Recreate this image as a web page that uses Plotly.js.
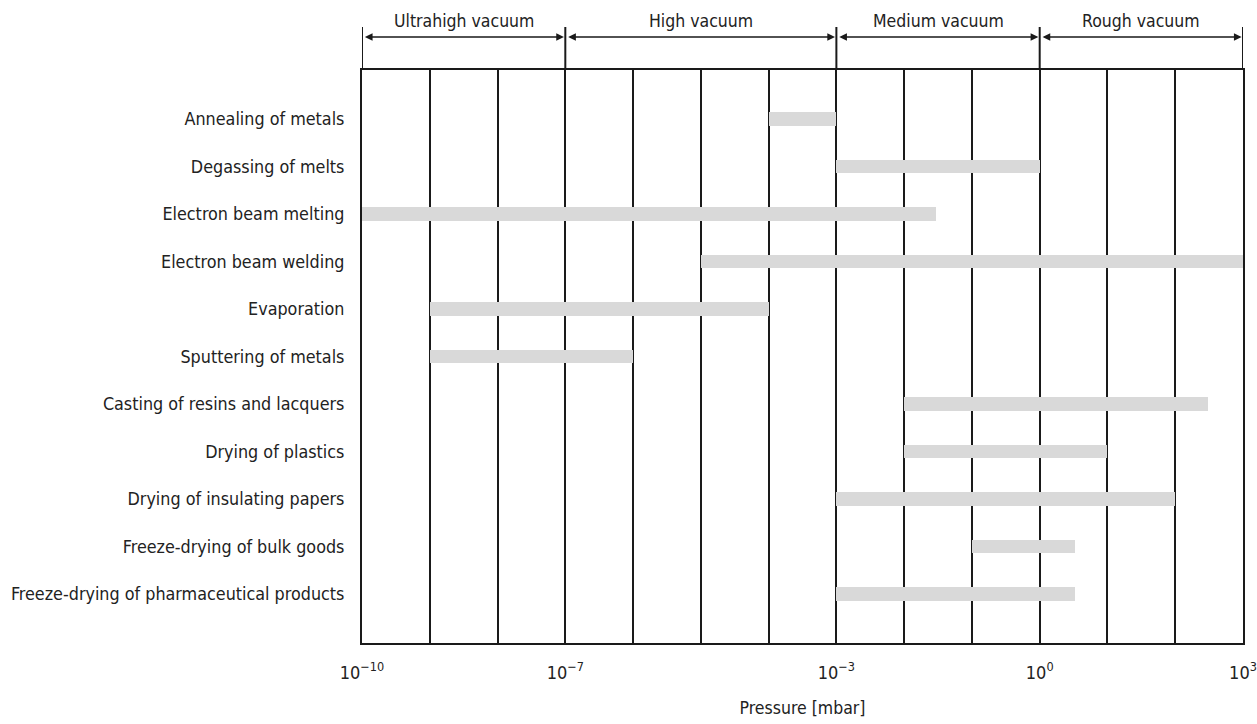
<!DOCTYPE html>
<html>
<head>
<meta charset="utf-8">
<script src="https://cdn.plot.ly/plotly-3.0.1.min.js"></script>
<style>html,body{margin:0;padding:0;background:#fff;}#chart{width:1257px;height:724px;}</style>
</head>
<body>
<div id="chart"></div>
<script>
// Applications (top to bottom)
const applications = [
  "Annealing of metals",
  "Degassing of melts",
  "Electron beam melting",
  "Electron beam welding",
  "Evaporation",
  "Sputtering of metals",
  "Casting of resins and lacquers",
  "Drying of plastics",
  "Drying of insulating papers",
  "Freeze-drying of bulk goods",
  "Freeze-drying of pharmaceutical products"
];
// Pressure range per application, mbar
const rangeStart = [1e-4, 1e-3, 1e-10, 1e-5, 1e-9, 1e-9, 1e-2, 1e-2, 1e-3, 1e-1, 1e-3];
const rangeEnd   = [1e-3, 1e0,  3e-2,  1e3,  1e-4, 1e-6, 3e2,  1e1,  1e2,  3.3,  3.3];

// Vacuum regions (boundaries in mbar)
const regionNames = ["Ultrahigh vacuum", "High vacuum", "Medium vacuum", "Rough vacuum"];
const regionBounds = [1e-10, 1e-7, 1e-3, 1e0, 1e3];

// Axis ticks
const labelTicks = [1e-10, 1e-7, 1e-3, 1e0, 1e3];
const labelTickText = ["10<sup>−10</sup>", "10<sup>−7</sup>", "10<sup>−3</sup>", "10<sup>0</sup>", "10<sup>3</sup>"];
const decades = [1e-10,1e-9,1e-8,1e-7,1e-6,1e-5,1e-4,1e-3,1e-2,1e-1,1e0,1e1,1e2,1e3];

const FONT = "'Liberation Sans Narrow', 'Arial Narrow', 'DejaVu Sans Condensed', sans-serif";
const LINE = "#1a1a1a";
const TXT = "#222";

const yIdx = applications.map((_, i) => i);

const trace = {
  type: "bar",
  orientation: "h",
  y: yIdx,
  base: rangeStart,
  x: rangeEnd.map((e, i) => e - rangeStart[i]),
  width: 0.28,
  marker: {color: "#d9d9d9", line: {width: 0}},
  hoverinfo: "skip",
  showlegend: false
};

const plotTop = 70, plotBottom = 643, plotH = plotBottom - plotTop;
const py = px => (plotBottom - px) / plotH;

const shapes = [];
const annotations = [];
regionBounds.forEach(b => {
  shapes.push({type: "line", xref: "x", yref: "paper", x0: b, x1: b, y0: 1, y1: py(27),
    line: {color: LINE, width: 2}});
});
for (let i = 0; i < regionNames.length; i++) {
  const a = Math.log10(regionBounds[i]), b = Math.log10(regionBounds[i + 1]);
  annotations.push({
    xref: "x", yref: "paper", axref: "x", ayref: "pixel",
    x: b - 0.02, y: py(37), ax: a + 0.02, ay: 0,
    showarrow: true, arrowside: "end+start", arrowhead: 2, startarrowhead: 2,
    arrowsize: 1.1, startarrowsize: 1.1, arrowwidth: 1.4, arrowcolor: LINE, text: ""
  });
  annotations.push({
    xref: "x", yref: "paper", x: (a + b) / 2, y: py(21), showarrow: false,
    text: regionNames[i], font: {family: FONT, size: 17.5, color: TXT},
    xanchor: "center", yanchor: "middle"
  });
}

const layout = {
  width: 1257, height: 724,
  paper_bgcolor: "#fff", plot_bgcolor: "#fff",
  margin: {l: 362, r: 14, t: plotTop, b: 724 - plotBottom},
  bargap: 0,
  font: {family: FONT, size: 17.5, color: TXT},
  xaxis: {
    type: "log", range: [-10, 3],
    tickmode: "array", tickvals: labelTicks, ticktext: labelTickText,
    showgrid: true, gridcolor: LINE, gridwidth: 2,
    minor: {tickmode: "array", tickvals: decades, showgrid: true, gridcolor: LINE, gridwidth: 2, ticks: ""},
    showline: true, linecolor: LINE, linewidth: 2, mirror: true,
    ticks: "", ticklabelstandoff: 12, zeroline: false,
    tickfont: {family: FONT, size: 18, color: TXT},
    title: {text: "Pressure [mbar]", font: {family: FONT, size: 17.5, color: TXT}, standoff: 20},
    fixedrange: true
  },
  yaxis: {
    range: [applications.length - 1 + 1.03, -1.03],
    tickmode: "array", tickvals: yIdx, ticktext: applications,
    showgrid: false, zeroline: false,
    showline: true, linecolor: LINE, linewidth: 2, mirror: true,
    ticks: "", ticklabelstandoff: 12,
    tickfont: {family: FONT, size: 17.8, color: TXT},
    fixedrange: true
  },
  shapes: shapes,
  annotations: annotations
};

Plotly.newPlot("chart", [trace], layout, {displayModeBar: false, staticPlot: true});
</script>
</body>
</html>
